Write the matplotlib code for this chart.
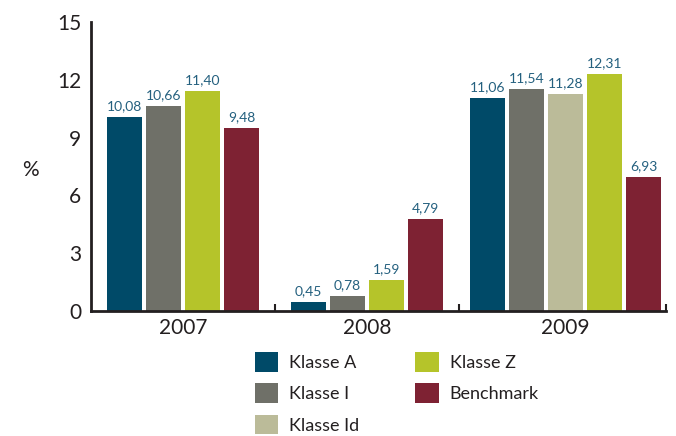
import matplotlib.pyplot as plt
from matplotlib.patches import Patch

years = ['2007', '2008', '2009']
series_names = ['Klasse A', 'Klasse I', 'Klasse Id', 'Klasse Z', 'Benchmark']
# None = no bar for that year
klasse_a = [10.08, 0.45, 11.06]
klasse_i = [10.66, 0.78, 11.54]
klasse_id = [None, None, 11.28]
klasse_z = [11.40, 1.59, 12.31]
benchmark = [9.48, 4.79, 6.93]

colors = ['#004a68', '#6f7068', '#bbbb99', '#b5c42a', '#7e2233']
label_color = '#24607f'
axis_color = '#231f20'

plt.rcParams['font.family'] = ['Lato', 'DejaVu Sans']

fig = plt.figure(figsize=(6.76, 4.36), dpi=100)
ax = fig.add_axes([0.1346, 0.2867, 0.8505, 0.6628])

all_series = [klasse_a, klasse_i, klasse_id, klasse_z, benchmark]
group_widths = [4.72, 4.72, 5.30]
group_shift = [0.0, 0.0, 0.08]

start = 0.0
centers = []
bounds = []
for g, year in enumerate(years):
    vals = [(k, s[g]) for k, s in enumerate(all_series) if s[g] is not None]
    n = len(vals)
    gc = start + group_widths[g] / 2 + group_shift[g]
    centers.append(gc)
    for i, (k, v) in enumerate(vals):
        x = gc + (i - (n - 1) / 2)
        ax.bar(x, v, width=0.9, color=colors[k], linewidth=0)
        ax.annotate(f'{v:.2f}'.replace('.', ','), (x, v), xytext=(0, 3.5),
                    textcoords='offset points', ha='center', va='bottom',
                    fontsize=10, color=label_color)
    start += group_widths[g]
    bounds.append(start)

ax.set_xlim(0, start)
ax.set_ylim(0, 15)
ax.set_yticks([0, 3, 6, 9, 12, 15])
ax.set_xticks(centers)
ax.set_xticklabels(years)
ax.set_xticks(bounds, minor=True)
ax.tick_params(axis='x', which='major', length=0, labelsize=15, pad=5, colors=axis_color)
ax.tick_params(axis='x', which='minor', direction='in', length=5, width=1.5, color=axis_color)
ax.tick_params(axis='y', length=0, labelsize=15, pad=7, colors=axis_color)

for side in ['top', 'right']:
    ax.spines[side].set_visible(False)
for side in ['left', 'bottom']:
    ax.spines[side].set_linewidth(2)
    ax.spines[side].set_color(axis_color)

fig.text(0.045, 0.61, '%', fontsize=15, color=axis_color, ha='center', va='center')

handles = [Patch(facecolor=c, edgecolor='none') for c in colors]
fig.legend(handles, series_names, loc='upper left', bbox_to_anchor=(0.377, 0.193), ncol=2,
           frameon=False, fontsize=13, handlelength=1.3, handleheight=1.3,
           handletextpad=0.6, labelspacing=0.65, columnspacing=3.1, borderpad=0,
           borderaxespad=0, labelcolor=axis_color)

fig.savefig('out.png', dpi=100)
